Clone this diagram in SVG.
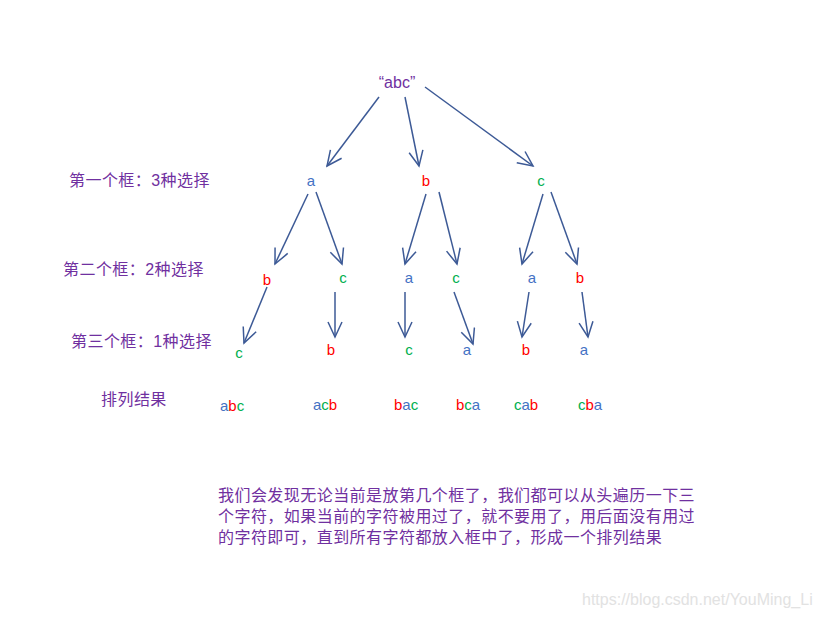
<svg xmlns="http://www.w3.org/2000/svg" width="820" height="617" viewBox="0 0 820 617">
<style>
.t{font-family:"Liberation Sans",Arial,sans-serif;font-size:15px;text-anchor:middle}
.a{fill:#4472C4}.b{fill:#FF0000}.c{fill:#00B050}
.p{fill:#7030A0;font-family:"Liberation Sans","Noto Sans CJK SC",sans-serif;font-size:16px;letter-spacing:0.45px}
.r{font-family:"Liberation Sans",Arial,sans-serif;font-size:15px}
.e{stroke:#3D5A96;stroke-width:1.5;fill:none;marker-end:url(#ah)}
</style>
<defs>
<marker id="ah" markerUnits="userSpaceOnUse" viewBox="-16 -8 18 16" refX="0" refY="0" markerWidth="18" markerHeight="16" orient="auto">
<path d="M-15,-7 L0,0 L-15,7" fill="none" stroke="#3D5A96" stroke-width="1.5"/>
</marker>
</defs>
<rect width="820" height="617" fill="#fff"/>
<g id="connectors">
<line class="e" x1="379" y1="97" x2="327" y2="166"/>
<line class="e" x1="405" y1="97" x2="419" y2="166"/>
<line class="e" x1="425" y1="87" x2="533" y2="166"/>
<line class="e" x1="308" y1="194" x2="275" y2="264"/>
<line class="e" x1="316" y1="192" x2="342" y2="264"/>
<line class="e" x1="426" y1="194" x2="405" y2="264"/>
<line class="e" x1="439" y1="192" x2="457" y2="264"/>
<line class="e" x1="543" y1="194" x2="522" y2="264"/>
<line class="e" x1="551" y1="192" x2="577" y2="264"/>
<line class="e" x1="267" y1="287" x2="244" y2="343"/>
<line class="e" x1="335" y1="292" x2="335" y2="337"/>
<line class="e" x1="405" y1="292" x2="405" y2="337"/>
<line class="e" x1="454" y1="292" x2="473" y2="344"/>
<line class="e" x1="529" y1="292" x2="522" y2="337"/>
<line class="e" x1="582" y1="292" x2="588" y2="337"/>
</g>
<g id="root"><text x="397" y="88" class="t" style="fill:#7030A0;font-size:16px">“abc”</text></g>
<g id="l1-a"><text x="311" y="186" class="t a">a</text></g>
<g id="l1-b"><text x="426" y="186" class="t b">b</text></g>
<g id="l1-c"><text x="541" y="186" class="t c">c</text></g>
<g id="l2-ab"><text x="267" y="285" class="t b">b</text></g>
<g id="l2-ac"><text x="343" y="283" class="t c">c</text></g>
<g id="l2-ba"><text x="409" y="283" class="t a">a</text></g>
<g id="l2-bc"><text x="456" y="283" class="t c">c</text></g>
<g id="l2-ca"><text x="532" y="283" class="t a">a</text></g>
<g id="l2-cb"><text x="580" y="283" class="t b">b</text></g>
<g id="l3-abc"><text x="239" y="358" class="t c">c</text></g>
<g id="l3-acb"><text x="331" y="355" class="t b">b</text></g>
<g id="l3-bac"><text x="409" y="355" class="t c">c</text></g>
<g id="l3-bca"><text x="467" y="355" class="t a">a</text></g>
<g id="l3-cab"><text x="526" y="355" class="t b">b</text></g>
<g id="l3-cba"><text x="584" y="355" class="t a">a</text></g>
<g id="results">
<text x="220" y="411" class="r"><tspan class="a">a</tspan><tspan class="b">b</tspan><tspan class="c">c</tspan></text>
<text x="313" y="410" class="r"><tspan class="a">a</tspan><tspan class="c">c</tspan><tspan class="b">b</tspan></text>
<text x="394" y="410" class="r"><tspan class="b">b</tspan><tspan class="a">a</tspan><tspan class="c">c</tspan></text>
<text x="456" y="410" class="r"><tspan class="b">b</tspan><tspan class="c">c</tspan><tspan class="a">a</tspan></text>
<text x="514" y="410" class="r"><tspan class="c">c</tspan><tspan class="a">a</tspan><tspan class="b">b</tspan></text>
<text x="578" y="410" class="r"><tspan class="c">c</tspan><tspan class="b">b</tspan><tspan class="a">a</tspan></text>
</g>
<g id="labels">
<text x="69" y="186" class="p">第一个框：3种选择</text>
<text x="63" y="275" class="p">第二个框：2种选择</text>
<text x="71" y="347" class="p">第三个框：1种选择</text>
<text x="101" y="405" class="p">排列结果</text>
</g>
<g id="note">
<text x="218" y="501" class="p">我们会发现无论当前是放第几个框了，我们都可以从头遍历一下三</text>
<text x="218" y="522" class="p">个字符，如果当前的字符被用过了，就不要用了，用后面没有用过</text>
<text x="218" y="543" class="p">的字符即可，直到所有字符都放入框中了，形成一个排列结果</text>
</g>
<text x="582" y="605" style="font-family:'Liberation Sans',Arial,sans-serif;font-size:16px;fill:#E2E2E2">https://blog.csdn.net/YouMing_Li</text>
</svg>
